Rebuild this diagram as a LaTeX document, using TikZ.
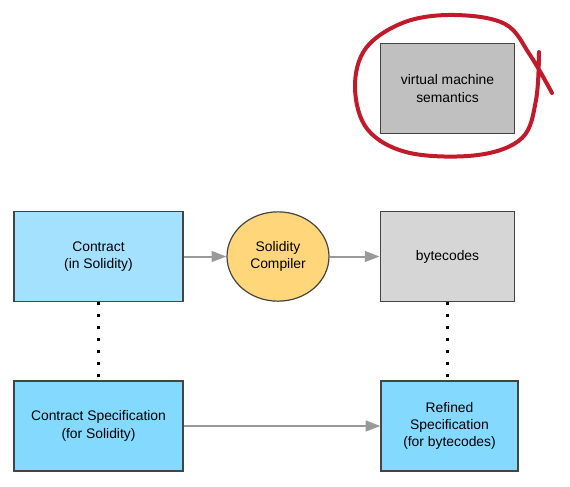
\documentclass[tikz,border=0pt]{standalone}
\usepackage{fontspec}
\setmainfont{Liberation Sans}
\usepackage{tikz}
\usetikzlibrary{arrows.meta}
\usetikzlibrary{shapes.geometric}

\definecolor{srcblue}{HTML}{A3E1FF}
\definecolor{specblue}{HTML}{84D9FF}
\definecolor{compyellow}{HTML}{FFD77A}
\definecolor{bcgray}{HTML}{D6D6D6}
\definecolor{vmgray}{HTML}{C0C0C0}
\definecolor{edgegray}{HTML}{444444}
\definecolor{arrowgray}{HTML}{999999}
\definecolor{markred}{HTML}{C21A2B}

\tikzset{
  box/.style={draw=edgegray, line width=0.9pt, align=center, inner sep=2pt},
  flow/.style={draw=arrowgray, line width=1.5pt, -{Triangle[length=11pt, width=8pt]}},
  link/.style={line width=2.2pt, dash pattern=on 2.2pt off 6.8pt}
}

\begin{document}
\begin{tikzpicture}[x=0.75pt, y=-0.75pt, every node/.style={font=\fontsize{10.4}{13}\selectfont}]
	\useasboundingbox (0,0) rectangle (570,486);

	% Top-right circled box
	\node[box, fill=vmgray, minimum width=101pt, minimum height=67pt] (vm) at (447.5,88.5) {virtual machine\\semantics};
	\draw[markred, line width=3pt, line cap=round, line join=round] plot[smooth, tension=0.6] coordinates {
		(539,52) (536,100) (522,138) (478,155) (410,153) (368,130) (355,88) (366,48) (405,22) (455,15) (505,24) (530,55) (552,93)};

	% Middle row
	\node[box, fill=srcblue, minimum width=126.75pt, minimum height=67pt] (contract) at (98.5,256.5) {Contract\\(in Solidity)};
	\node[box, ellipse, fill=compyellow, minimum width=76.5pt, minimum height=67pt, inner sep=0pt] (compiler) at (278,256.5) {Solidity\\Compiler};
	\node[box, fill=bcgray, minimum width=101pt, minimum height=67pt] (bytecodes) at (447.5,256.5) {bytecodes};

	% Bottom row
	\node[box, fill=specblue, minimum width=126.75pt, minimum height=67.5pt] (spec) at (98.5,426) {Contract Specification\\(for Solidity)};
	\node[box, fill=specblue, minimum width=102.75pt, minimum height=67.5pt] (refined) at (449.5,426) {Refined\\Specification\\(for bytecodes)};

	% Connectors
	\draw[flow] (contract) -- (compiler);
	\draw[flow] (compiler) -- (bytecodes);
	\draw[flow] (spec) -- (refined);
	\draw[link] (contract) -- (spec);
	\draw[link] (bytecodes) -- (bytecodes |- refined.north);
\end{tikzpicture}
\end{document}
